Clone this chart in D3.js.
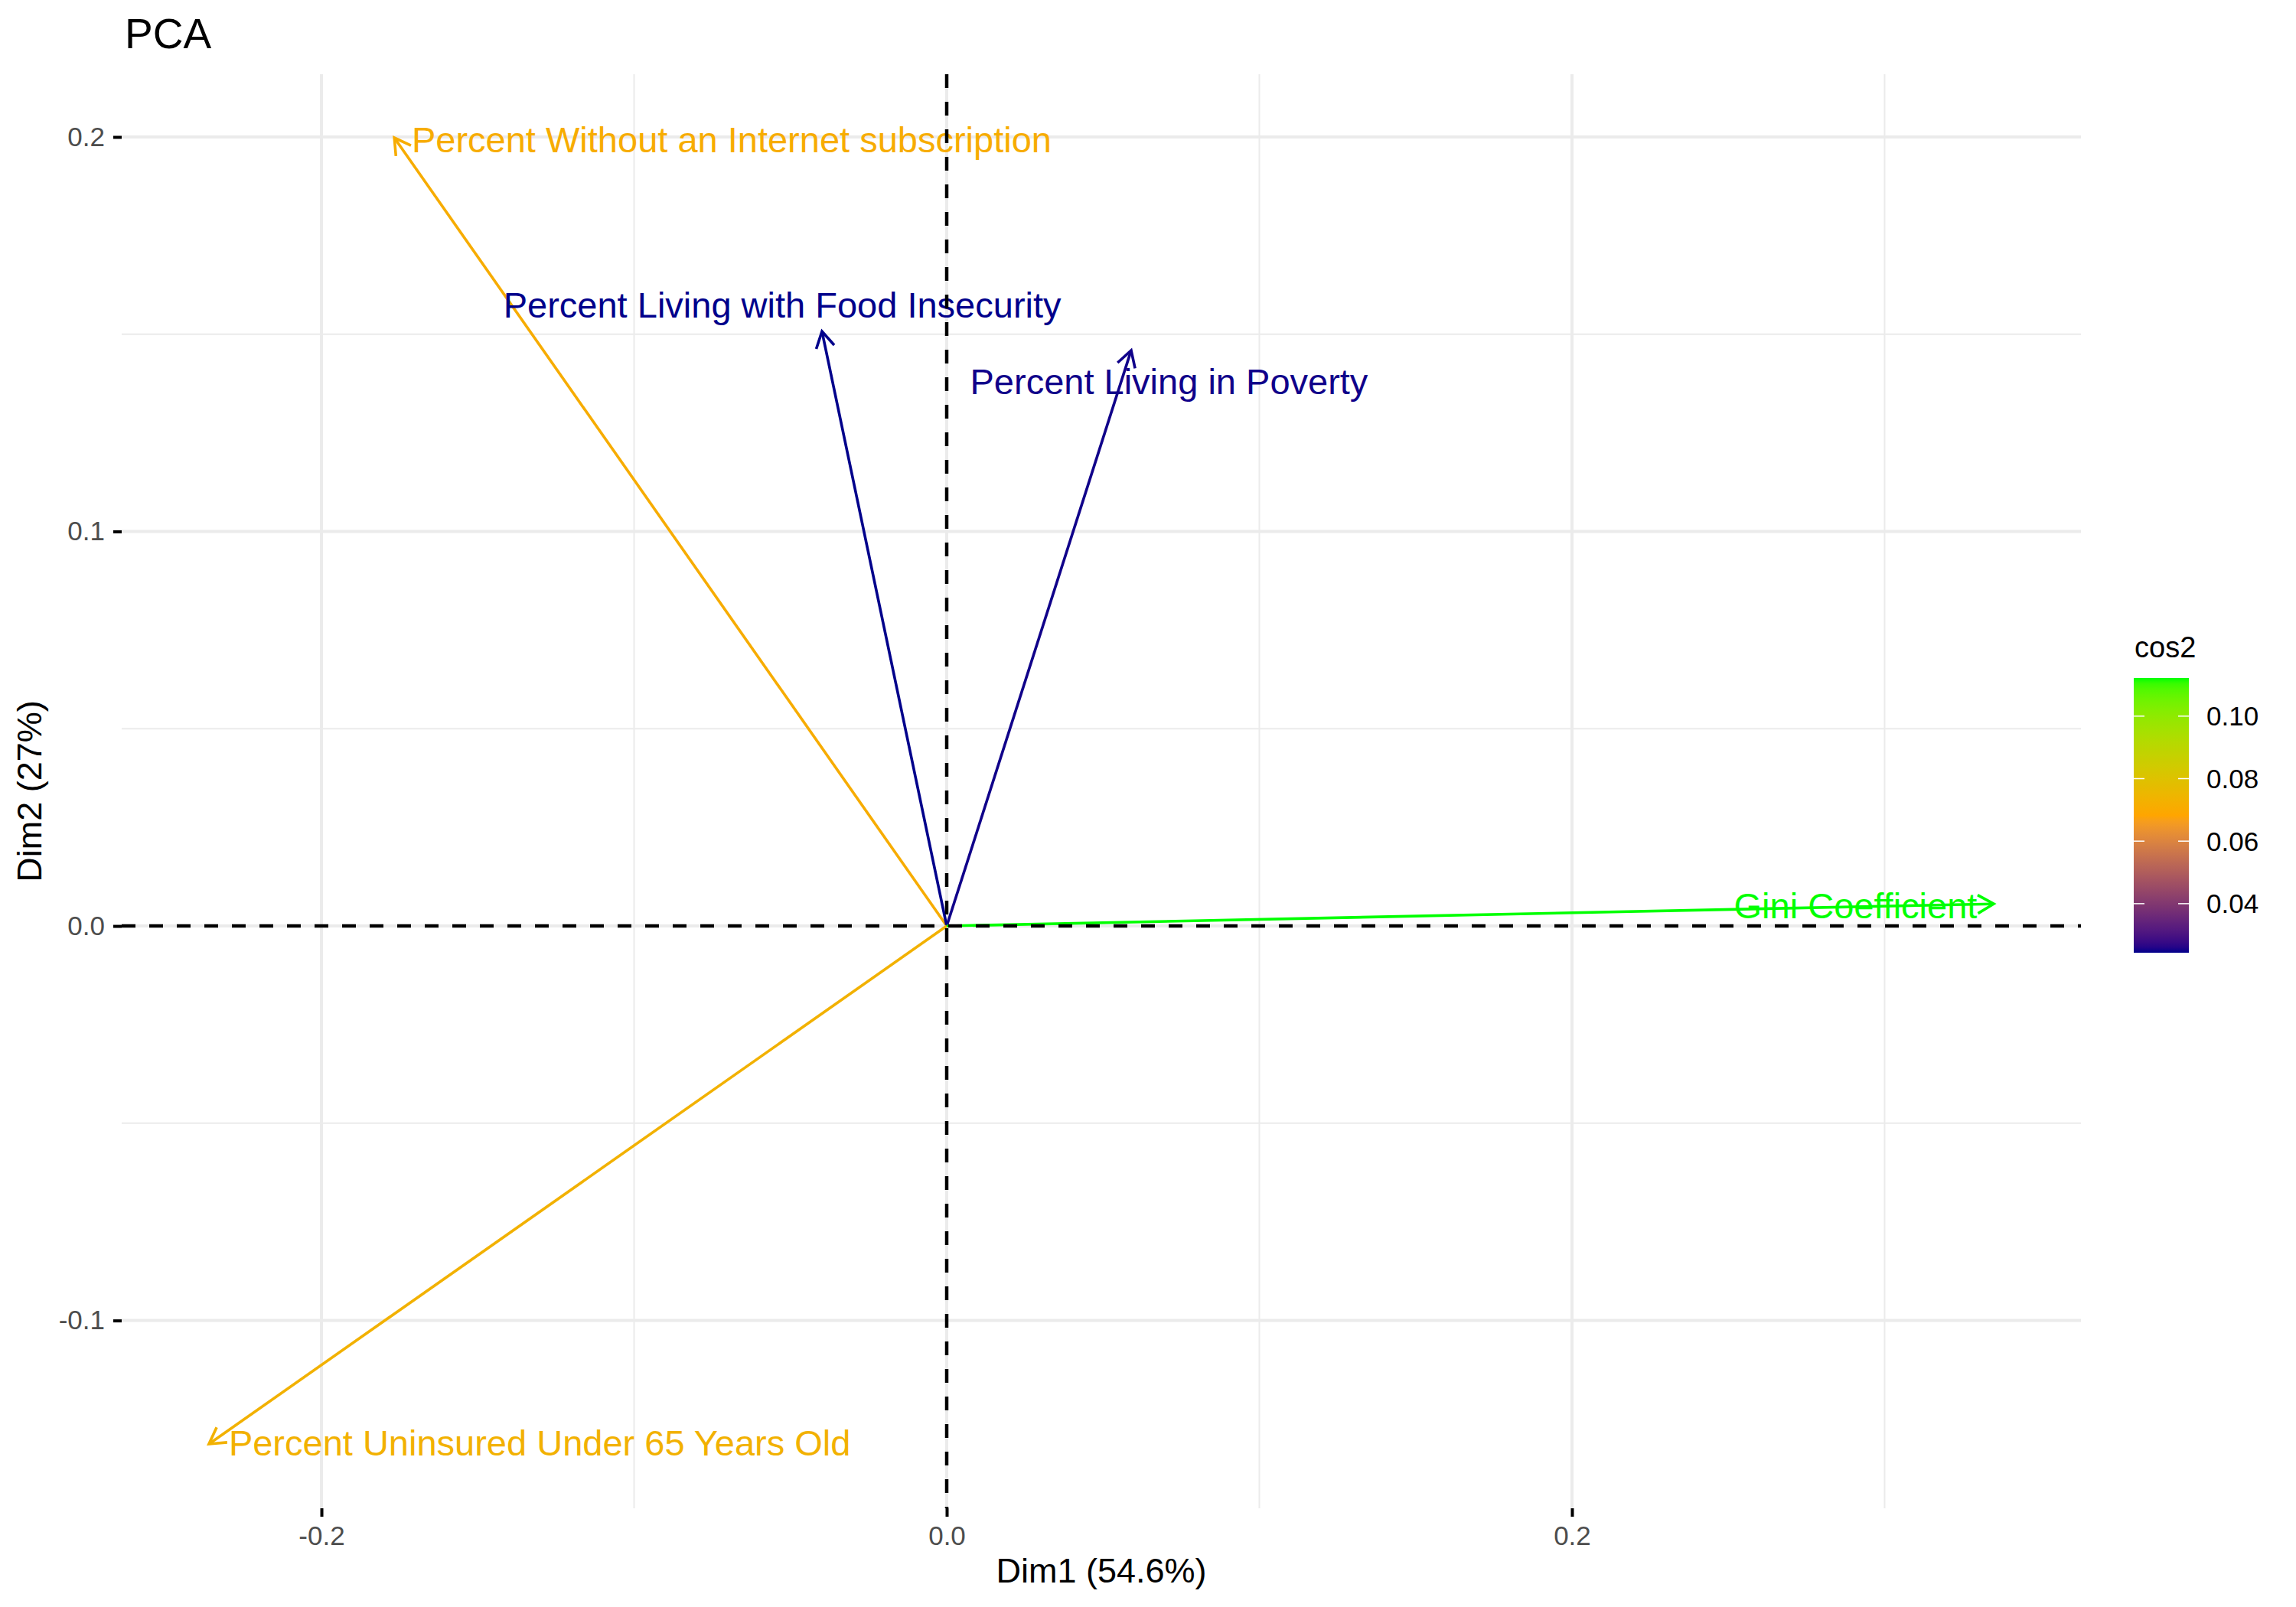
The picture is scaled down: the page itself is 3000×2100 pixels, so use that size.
<!DOCTYPE html>
<html>
<head>
<meta charset="utf-8">
<script src="https://cdn.jsdelivr.net/npm/d3@7"></script>
<style>
  html, body { margin: 0; padding: 0; background: #ffffff; }
  svg { display: block; font-family: "Liberation Sans", Arial, Helvetica, sans-serif; }
</style>
</head>
<body>
<svg id="chart" width="3000" height="2100"></svg>
<script>
// ---- data ----
const variables = [
  "Percent Without an Internet subscription",
  "Percent Living with Food Insecurity",
  "Percent Living in Poverty",
  "Percent Uninsured Under 65 Years Old",
  "Gini Coefficient"
];
const dim1 = [-0.1767, -0.0399, 0.0590, -0.2360, 0.3349];
const dim2 = [0.1998, 0.1507, 0.1459, -0.1313, 0.0056];
const cos2 = [0.0711, 0.0243, 0.0248, 0.0729, 0.1122];
// label anchor (centre) positions, data units
const labelX = [-0.0688, -0.0526, 0.0711, -0.1302, 0.2907];
const labelY = [0.1994, 0.1575, 0.1381, -0.1309, 0.0052];

const xMajor = [-0.2, 0.0, 0.2];
const xMinor = [-0.1, 0.1, 0.3];
const yMajor = [-0.1, 0.0, 0.1, 0.2];
const yMinor = [-0.05, 0.05, 0.15];
const legendTicks = [0.04, 0.06, 0.08, 0.10];
const gradientCols = ["#00008B", "#FFA500", "#00FF00"];

const title = "PCA";
const xTitle = "Dim1 (54.6%)";
const yTitle = "Dim2 (27%)";
const legendTitle = "cos2";

// ---- layout ----
const P = { left: 159, right: 2719, top: 97, bottom: 1971 };
const svg = d3.select("#chart");

const x = d3.scaleLinear().domain([-0.2639, 0.3628]).range([P.left, P.right]);
const y = d3.scaleLinear().domain([-0.1476, 0.2159]).range([P.bottom, P.top]);

const cMin = d3.min(cos2), cMax = d3.max(cos2);
const color = d3.scaleLinear()
  .domain([cMin, (cMin + cMax) / 2, cMax])
  .range(gradientCols)
  .interpolate(d3.interpolateLab);

const fmt = d => d3.format(".1f")(d).replace("\u2212", "-");

// ---- grid ----
const grid = svg.append("g");
grid.selectAll(".xmin").data(xMinor).enter().append("line")
  .attr("x1", d => x(d)).attr("x2", d => x(d))
  .attr("y1", P.top).attr("y2", P.bottom)
  .attr("stroke", "#EBEBEB").attr("stroke-width", 2);
grid.selectAll(".ymin").data(yMinor).enter().append("line")
  .attr("x1", P.left).attr("x2", P.right)
  .attr("y1", d => y(d)).attr("y2", d => y(d))
  .attr("stroke", "#EBEBEB").attr("stroke-width", 2);
grid.selectAll(".xmaj").data(xMajor).enter().append("line")
  .attr("x1", d => x(d)).attr("x2", d => x(d))
  .attr("y1", P.top).attr("y2", P.bottom)
  .attr("stroke", "#EBEBEB").attr("stroke-width", 4);
grid.selectAll(".ymaj").data(yMajor).enter().append("line")
  .attr("x1", P.left).attr("x2", P.right)
  .attr("y1", d => y(d)).attr("y2", d => y(d))
  .attr("stroke", "#EBEBEB").attr("stroke-width", 4);

// ---- axes ----
const xAxis = svg.append("g")
  .attr("transform", `translate(0,${P.bottom})`)
  .call(d3.axisBottom(x).tickValues(xMajor).tickSize(11).tickPadding(12).tickFormat(fmt));
const yAxis = svg.append("g")
  .attr("transform", `translate(${P.left},0)`)
  .call(d3.axisLeft(y).tickValues(yMajor).tickSize(11).tickPadding(11).tickFormat(fmt));
[xAxis, yAxis].forEach(a => {
  a.select(".domain").remove();
  a.selectAll(".tick line").attr("stroke", "#000").attr("stroke-width", 4);
  a.selectAll(".tick text")
    .attr("fill", "#4D4D4D")
    .style("font-size", "35px")
    .style("font-family", "'Liberation Sans', Arial, sans-serif");
});

// ---- arrows ----
const defs = svg.append("defs");
const data = variables.map((v, i) => ({
  name: v, x: dim1[i], y: dim2[i], c: cos2[i], lx: labelX[i], ly: labelY[i], i
}));
data.forEach(d => {
  const m = defs.append("marker")
    .attr("id", "arr" + d.i)
    .attr("markerUnits", "userSpaceOnUse")
    .attr("viewBox", "-30 -20 40 40")
    .attr("refX", 0).attr("refY", 0)
    .attr("markerWidth", 40).attr("markerHeight", 40)
    .attr("orient", "auto");
  const L = 24, a = Math.PI / 6;
  m.append("path")
    .attr("d", `M${-L * Math.cos(a)},${-L * Math.sin(a)} L0,0 L${-L * Math.cos(a)},${L * Math.sin(a)}`)
    .attr("fill", "none")
    .attr("stroke", color(d.c))
    .attr("stroke-width", 3.6)
    .attr("stroke-linecap", "butt")
    .attr("stroke-linejoin", "miter");
});

svg.append("g").selectAll("line").data(data).enter().append("line")
  .attr("x1", x(0)).attr("y1", y(0))
  .attr("x2", d => x(d.x)).attr("y2", d => y(d.y))
  .attr("stroke", d => color(d.c))
  .attr("stroke-width", 3.6)
  .attr("marker-end", d => `url(#arr${d.i})`);

// ---- labels ----
svg.append("g").selectAll("text").data(data).enter().append("text")
  .attr("x", d => x(d.lx)).attr("y", d => y(d.ly))
  .attr("dy", "0.36em")
  .attr("text-anchor", "middle")
  .attr("fill", d => color(d.c))
  .style("font-size", "47px")
  .text(d => d.name);

// ---- reference dashed lines ----
svg.append("line")
  .attr("x1", P.left).attr("x2", P.right)
  .attr("y1", y(0)).attr("y2", y(0))
  .attr("stroke", "#000").attr("stroke-width", 4.5)
  .attr("stroke-dasharray", "18,18");
svg.append("line")
  .attr("x1", x(0)).attr("x2", x(0))
  .attr("y1", P.top).attr("y2", P.bottom)
  .attr("stroke", "#000").attr("stroke-width", 4.5)
  .attr("stroke-dasharray", "18,18");

// ---- titles ----
svg.append("text").attr("x", 163).attr("y", 63)
  .style("font-size", "55px").attr("fill", "#000").text(title);
svg.append("text").attr("x", (P.left + P.right) / 2).attr("y", 2068)
  .attr("text-anchor", "middle").style("font-size", "45px").attr("fill", "#000").text(xTitle);
svg.append("text")
  .attr("transform", `translate(54,${(P.top + P.bottom) / 2}) rotate(-90)`)
  .attr("text-anchor", "middle").style("font-size", "45px").attr("fill", "#000").text(yTitle);

// ---- legend ----
const lg = { x: 2788, w: 72, top: 886, bottom: 1245 };
const ly = d3.scaleLinear().domain([cMin, cMax]).range([lg.bottom, lg.top]);
const grad = defs.append("linearGradient").attr("id", "lgrad")
  .attr("x1", 0).attr("x2", 0).attr("y1", 1).attr("y2", 0);
d3.range(0, 1.0001, 0.02).forEach(t => {
  grad.append("stop").attr("offset", t)
    .attr("stop-color", color(cMin + t * (cMax - cMin)));
});
svg.append("rect").attr("x", lg.x).attr("y", lg.top)
  .attr("width", lg.w).attr("height", lg.bottom - lg.top)
  .attr("fill", "url(#lgrad)");
const lt = svg.append("g").selectAll("g").data(legendTicks).enter().append("g");
lt.append("line").attr("x1", lg.x).attr("x2", lg.x + 14)
  .attr("y1", d => ly(d)).attr("y2", d => ly(d))
  .attr("stroke", "#fff").attr("stroke-width", 1.5);
lt.append("line").attr("x1", lg.x + lg.w - 14).attr("x2", lg.x + lg.w)
  .attr("y1", d => ly(d)).attr("y2", d => ly(d))
  .attr("stroke", "#fff").attr("stroke-width", 1.5);
lt.append("text").attr("x", 2883).attr("y", d => ly(d)).attr("dy", "0.36em")
  .style("font-size", "35px").attr("fill", "#000")
  .text(d => d3.format(".2f")(d));
svg.append("text").attr("x", 2789).attr("y", 859)
  .style("font-size", "38px").attr("fill", "#000").text(legendTitle);
</script>
</body>
</html>
